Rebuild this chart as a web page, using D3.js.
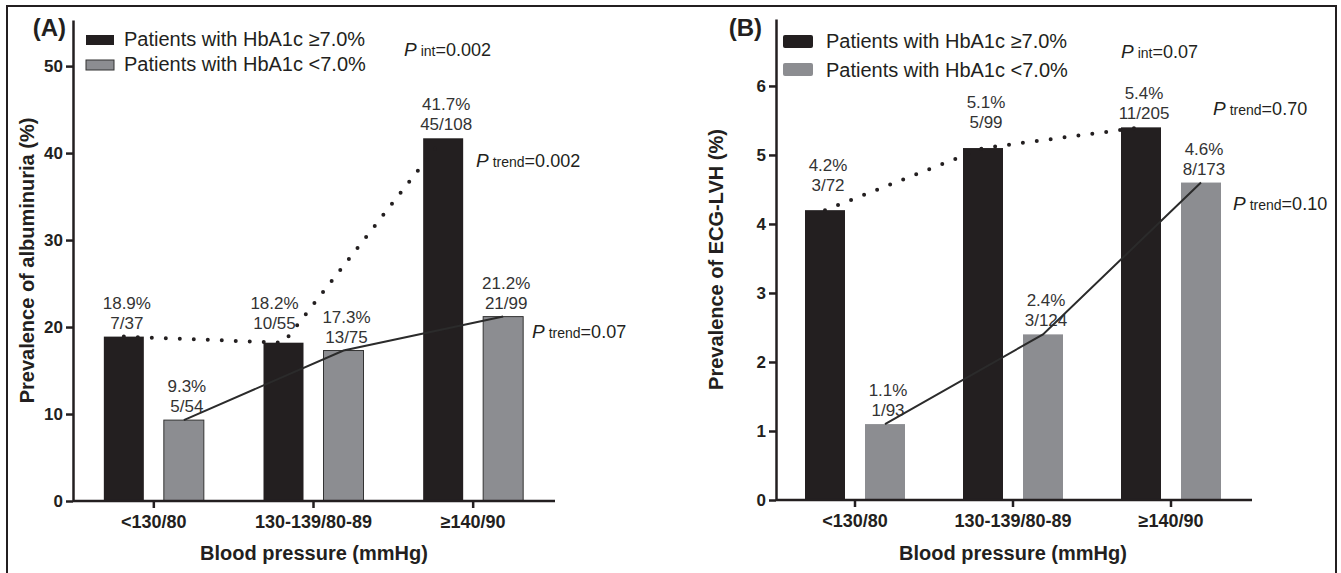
<!DOCTYPE html>
<html>
<head>
<meta charset="utf-8">
<script src="https://cdn.jsdelivr.net/npm/d3@7"></script>
<style>
  body { margin: 0; background: #fff; }
  svg { display: block; }
  text { font-family: "Liberation Sans", Arial, Helvetica, sans-serif; fill: #231f20; }
</style>
</head>
<body>
<svg id="chart" width="1341" height="573"></svg>
<script>
// ---- data ----
var categories = ['<130/80', '130-139/80-89', '\u2265140/90'];
var seriesNames = ['Patients with HbA1c \u22657.0%', 'Patients with HbA1c <7.0%'];

// (A) albuminuria
var albHigh = [18.9, 18.2, 41.7];
var albLow = [9.3, 17.3, 21.2];
var albHighN = ['7/37', '10/55', '45/108'];
var albLowN = ['5/54', '13/75', '21/99'];
var albTicks = [0, 10, 20, 30, 40, 50];
var albP = ['0.002', '0.002', '0.07']; // int, trend high, trend low

// (B) ECG-LVH
var lvhHigh = [4.2, 5.1, 5.4];
var lvhLow = [1.1, 2.4, 4.6];
var lvhHighN = ['3/72', '5/99', '11/205'];
var lvhLowN = ['1/93', '3/124', '8/173'];
var lvhTicks = [0, 1, 2, 3, 4, 5, 6];
var lvhP = ['0.07', '0.70', '0.10'];

var BLACK = '#231f20', GREY = '#8c8d91';

var svg = d3.select('#chart');

// outer frame (open at the bottom)
svg.append('path')
    .attr('d', 'M7,573 V6 H1336 V573')
    .attr('fill', 'none')
    .attr('stroke', BLACK)
    .attr('stroke-width', 2);

var panels = [
    {
        tag: '(A)', tagX: 66, title: 'Prevalence of albuminuria (%)',
        high: albHigh, low: albLow, highN: albHighN, lowN: albLowN,
        ticks: albTicks, p: albP, yMax: 55.3,
        axisX: 73, axisEnd: 555, band: [74, 553], y0: 501, yTop: 20,
        titleX: 34, xTitleX: 314,
        // label nudges (dx, dy) for the black-bar labels, to clear the dotted line
        nudge: [[0, 0], [-12, -6], [0, 0]],
        legend: {x: 86, w: 28, h: 10, rows: [35, 60], tx: 124, base: [46, 71], rx: 0, greyStroke: true},
        pint: [404, 56], ptrendHigh: [476, 167], ptrendLow: [532, 338]
    },
    {
        tag: '(B)', tagX: 762, title: 'Prevalence of ECG-LVH (%)',
        high: lvhHigh, low: lvhLow, highN: lvhHighN, lowN: lvhLowN,
        ticks: lvhTicks, p: lvhP, yMax: 6.97,
        axisX: 776, axisEnd: 1252, band: [776, 1250], y0: 500, yTop: 19,
        titleX: 723, xTitleX: 1013,
        nudge: [[0, -11], [0, -12], [0, 0]],
        legend: {x: 783, w: 30, h: 13, rows: [35, 63], tx: 826, base: [48, 77], rx: 2, greyStroke: false},
        pint: [1121, 58], ptrendHigh: [1213, 115], ptrendLow: [1233, 210]
    }
];

function pLabel(g, pos, sub, val) {
    var t = g.append('text').attr('x', pos[0]).attr('y', pos[1]);
    t.append('tspan').attr('font-style', 'italic').attr('font-size', 19).text('P');
    t.append('tspan').attr('dx', 4).attr('font-size', 14).text(sub);
    t.append('tspan').attr('font-size', 18).text('=' + val);
}

panels.forEach(function(cfg) {
    var g = svg.append('g');

    var x = d3.scaleBand().domain(categories).range(cfg.band).paddingInner(0).paddingOuter(0);
    var inner = d3.scaleBand().domain(['high', 'low']).range([-50, 50]).paddingInner(1 / 3);
    var y = d3.scaleLinear().domain([0, cfg.yMax]).range([cfg.y0, cfg.yTop]);

    function cx(i, s) {
        return x(categories[i]) + x.bandwidth() / 2 + inner(s) + inner.bandwidth() / 2;
    }

    var rows = categories.map(function(c, i) {
        return [
            {s: 'high', i: i, v: cfg.high[i], n: cfg.highN[i]},
            {s: 'low', i: i, v: cfg.low[i], n: cfg.lowN[i]}
        ];
    });
    var flat = d3.merge(rows);

    function ndx(d) { return d.s === 'high' ? cfg.nudge[d.i][0] : 0; }
    function ndy(d) { return d.s === 'high' ? cfg.nudge[d.i][1] : 0; }

    // bars
    g.selectAll('rect.bar')
        .data(flat)
        .enter()
        .append('rect')
        .attr('class', 'bar')
        .attr('x', function(d) { return x(categories[d.i]) + x.bandwidth() / 2 + inner(d.s); })
        .attr('width', inner.bandwidth())
        .attr('y', function(d) { return y(d.v); })
        .attr('height', function(d) { return y(0) - y(d.v); })
        .attr('fill', function(d) { return d.s === 'high' ? BLACK : GREY; })
        .attr('stroke', function(d) { return d.s === 'low' && cfg.legend.greyStroke ? '#333' : 'none'; })
        .attr('stroke-width', 1);

    // value labels
    var fmt = d3.format('.1f');
    var lab = g.selectAll('g.lab')
        .data(flat)
        .enter()
        .append('g')
        .attr('class', 'lab');
    lab.append('text')
        .attr('x', function(d) { return cx(d.i, d.s) + 3 + ndx(d); })
        .attr('y', function(d) { return y(d.v) - 28 + ndy(d); })
        .attr('text-anchor', 'middle')
        .attr('font-size', 17)
        .style('fill', '#333')
        .text(function(d) { return fmt(d.v) + '%'; });
    lab.append('text')
        .attr('x', function(d) { return cx(d.i, d.s) + 3 + ndx(d); })
        .attr('y', function(d) { return y(d.v) - 8 + ndy(d); })
        .attr('text-anchor', 'middle')
        .attr('font-size', 17)
        .style('fill', '#333')
        .text(function(d) { return d.n; });

    // trend lines
    var line = d3.line()
        .x(function(d) { return cx(d.i, d.s); })
        .y(function(d) { return y(d.v); });

    g.append('path')
        .datum(rows.map(function(r) { return r[0]; }))
        .attr('d', line)
        .attr('fill', 'none')
        .attr('stroke', BLACK)
        .attr('stroke-width', 4)
        .attr('stroke-linecap', 'round')
        .attr('stroke-dasharray', '0,14');

    g.append('path')
        .datum(rows.map(function(r) { return r[1]; }))
        .attr('d', line)
        .attr('fill', 'none')
        .attr('stroke', '#2b2b2b')
        .attr('stroke-width', 2);

    // axes
    var yAxis = g.append('g')
        .attr('transform', 'translate(' + cfg.axisX + ',0)')
        .call(d3.axisLeft(y).tickValues(cfg.ticks).tickFormat(d3.format('d'))
            .tickSize(7).tickSizeOuter(0).tickPadding(3));
    var xAxis = g.append('g')
        .attr('transform', 'translate(0,' + cfg.y0 + ')')
        .call(d3.axisBottom(x).tickSize(7).tickSizeOuter(0).tickPadding(7));
    xAxis.select('.domain').remove();
    g.append('line')
        .attr('x1', cfg.axisX).attr('x2', cfg.axisEnd)
        .attr('y1', cfg.y0).attr('y2', cfg.y0)
        .attr('stroke', BLACK).attr('stroke-width', 2.5);

    [yAxis, xAxis].forEach(function(a, k) {
        a.selectAll('path, line').attr('stroke', BLACK).attr('stroke-width', 2.5);
        a.selectAll('text')
            .attr('font-family', '"Liberation Sans", Arial, sans-serif')
            .attr('font-size', k === 0 ? 17 : 18)
            .attr('font-weight', 'bold')
            .attr('fill', BLACK);
    });

    // titles
    g.append('text')
        .attr('transform', 'translate(' + cfg.titleX + ',' + ((cfg.y0 + cfg.yTop) / 2) + ') rotate(-90)')
        .attr('text-anchor', 'middle')
        .attr('font-size', 20)
        .attr('font-weight', 'bold')
        .text(cfg.title);
    g.append('text')
        .attr('x', cfg.xTitleX)
        .attr('y', 560)
        .attr('text-anchor', 'middle')
        .attr('font-size', 20)
        .attr('font-weight', 'bold')
        .text('Blood pressure (mmHg)');
    g.append('text')
        .attr('x', cfg.tagX)
        .attr('y', 36)
        .attr('text-anchor', 'end')
        .attr('font-size', 24)
        .attr('font-weight', 'bold')
        .text(cfg.tag);

    // legend
    var L = cfg.legend;
    seriesNames.forEach(function(name, k) {
        g.append('rect')
            .attr('x', L.x).attr('y', L.rows[k])
            .attr('width', L.w).attr('height', L.h)
            .attr('rx', L.rx)
            .attr('fill', k === 0 ? BLACK : GREY)
            .attr('stroke', k === 1 && L.greyStroke ? '#333' : 'none');
        g.append('text')
            .attr('x', L.tx).attr('y', L.base[k])
            .attr('font-size', 20)
            .text(name);
    });

    // p values
    pLabel(g, cfg.pint, 'int', cfg.p[0]);
    pLabel(g, cfg.ptrendHigh, 'trend', cfg.p[1]);
    pLabel(g, cfg.ptrendLow, 'trend', cfg.p[2]);
});
</script>
</body>
</html>
